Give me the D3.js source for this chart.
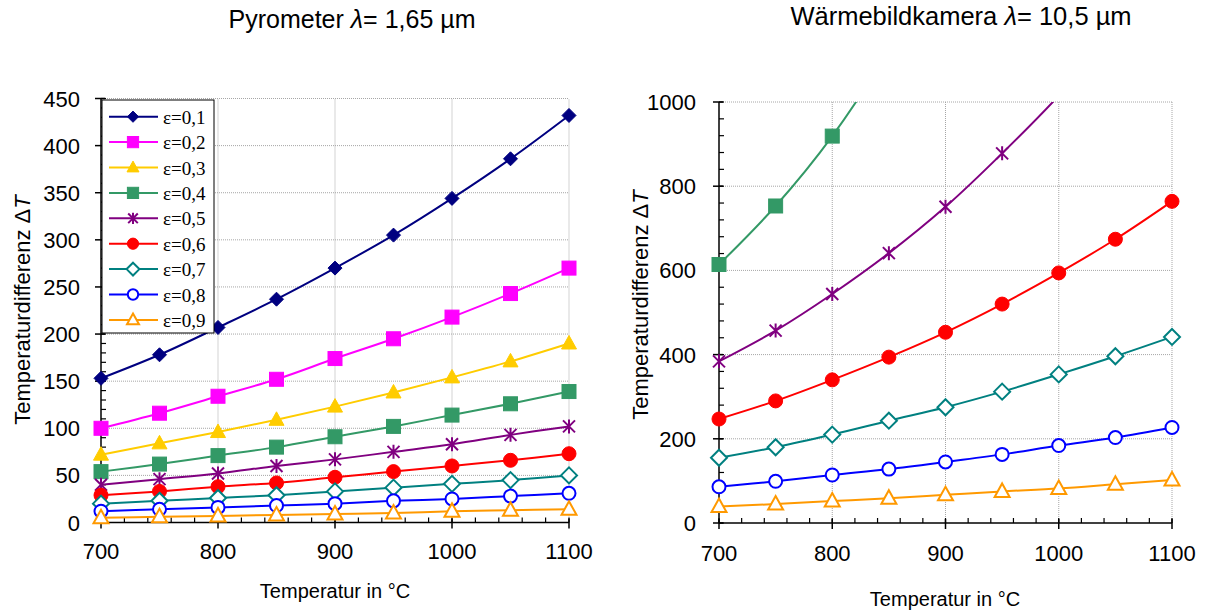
<!DOCTYPE html>
<html><head><meta charset="utf-8">
<script src="https://cdn.jsdelivr.net/npm/d3@7"></script>
<style>
body{margin:0;background:#fff;}
svg{display:block;}
</style></head>
<body>
<svg id="chart" width="1212" height="611"></svg>
<script>
// ---------- DATA ----------
const temps = [700, 750, 800, 850, 900, 950, 1000, 1050, 1100];
const epsLabels = ["ε=0,1","ε=0,2","ε=0,3","ε=0,4","ε=0,5","ε=0,6","ε=0,7","ε=0,8","ε=0,9"];
const seriesColors = ["#000080","#FF00FF","#FFCC00","#339966","#800080","#FF0000","#008080","#0000FF","#FF9900"];
const seriesMarkers = ["diamond","square","triangle","square","asterisk","circle","diamondOpen","circleOpen","triangleOpen"];

// Pyrometer λ = 1,65 µm
const pyro_e01 = [153, 178, 207, 237, 270, 305, 344, 386, 432];
const pyro_e02 = [100, 116, 134, 152, 174, 195, 218, 243, 270];
const pyro_e03 = [72, 84, 96, 109, 123, 138, 154, 171, 190];
const pyro_e04 = [54, 62, 71, 80, 91, 102, 114, 126, 139];
const pyro_e05 = [40, 46, 52, 60, 67, 75, 83, 93, 102];
const pyro_e06 = [29, 33, 38, 42, 48, 54, 60, 66, 73];
const pyro_e07 = [20, 23, 26, 29, 33, 37, 41, 45, 50];
const pyro_e08 = [12, 14, 16, 18, 20, 23, 25, 28, 31];
const pyro_e09 = [5, 6, 7, 8, 9, 10, 12, 13, 14];

// Wärmebildkamera λ = 10,5 µm (values above 1000 lie outside the plot)
const cam_e04 = [614, 753, 919, 1125, 1380, null, null, null, null];
const cam_e05 = [384, 457, 544, 641, 751, 878, 1015, 1170, null];
const cam_e06 = [247, 290, 340, 394, 453, 520, 594, 674, 764];
const cam_e07 = [155, 180, 210, 243, 275, 312, 353, 396, 442];
const cam_e08 = [86, 99, 114, 128, 145, 163, 184, 203, 227];
const cam_e09 = [39, 45, 52, 59, 67, 75, 82, 92, 102];

const leftTicks = [0, 50, 100, 150, 200, 250, 300, 350, 400, 450];
const rightTicks = [0, 200, 400, 600, 800, 1000];
const xTicks = [700, 800, 900, 1000, 1100];

const xLabel = "Temperatur in °C";
const yLabel = "Temperaturdifferenz";

// ---------- DRAW ----------
const svg = d3.select("#chart");
const defs = svg.append("defs");

function marker(g, type, color, x, y, k) {
  k = k || 1;
  const a = v => v * k;
  switch (type) {
    case "diamond":
      g.append("path").attr("d", `M${x},${y-a(7)}L${x+a(7)},${y}L${x},${y+a(7)}L${x-a(7)},${y}Z`).attr("fill", color).attr("stroke", color);
      break;
    case "square":
      g.append("rect").attr("x", x-a(7)).attr("y", y-a(7)).attr("width", a(14)).attr("height", a(14)).attr("fill", color).attr("stroke", color);
      break;
    case "triangle":
      g.append("path").attr("d", `M${x},${y-a(8)}L${x+a(7.5)},${y+a(5.5)}L${x-a(7.5)},${y+a(5.5)}Z`).attr("fill", color).attr("stroke", color);
      break;
    case "asterisk":
      g.append("path").attr("d", `M${x-a(6)},${y-a(6)}L${x+a(6)},${y+a(6)}M${x-a(6)},${y+a(6)}L${x+a(6)},${y-a(6)}M${x},${y-a(7)}L${x},${y+a(7)}`)
        .attr("fill", "none").attr("stroke", color).attr("stroke-width", 2);
      break;
    case "circle":
      g.append("circle").attr("cx", x).attr("cy", y).attr("r", a(7)).attr("fill", color).attr("stroke", color);
      break;
    case "diamondOpen":
      g.append("path").attr("d", `M${x},${y-a(8)}L${x+a(8)},${y}L${x},${y+a(8)}L${x-a(8)},${y}Z`).attr("fill", "#fff").attr("stroke", color).attr("stroke-width", 2);
      break;
    case "circleOpen":
      g.append("circle").attr("cx", x).attr("cy", y).attr("r", a(6.5)).attr("fill", "#fff").attr("stroke", color).attr("stroke-width", 2);
      break;
    case "triangleOpen":
      g.append("path").attr("d", `M${x},${y-a(8)}L${x+a(7.5)},${y+a(5.5)}L${x-a(7.5)},${y+a(5.5)}Z`).attr("fill", "#fff").attr("stroke", color).attr("stroke-width", 2);
      break;
  }
}

function drawChart(opt) {
  const x = d3.scaleLinear().domain([700, 1100]).range([opt.x0, opt.x1]);
  const y = d3.scaleLinear().domain([0, opt.yMax]).range([opt.y0, opt.y1]);
  const g = svg.append("g");
  const clipId = "clip" + opt.id;
  defs.append("clipPath").attr("id", clipId).append("rect")
    .attr("x", opt.x0 - 12).attr("y", opt.y1).attr("width", opt.x1 - opt.x0 + 24).attr("height", opt.y0 - opt.y1 + 12);

  // gridlines
  const grid = g.append("g").attr("stroke", "#a6a6a6").attr("stroke-width", 1).attr("stroke-dasharray", "1,1");
  opt.yTicks.filter(d => d > 0).forEach(t => {
    grid.append("line").attr("x1", opt.x0).attr("x2", opt.x1).attr("y1", y(t)).attr("y2", y(t));
  });
  xTicks.filter(d => d > 700).forEach(t => {
    grid.append("line").attr("x1", x(t)).attr("x2", x(t)).attr("y1", opt.y0).attr("y2", opt.y1);
  });

  // axes
  const ax = g.append("g").attr("stroke", "#000").attr("stroke-width", 1.5);
  ax.append("line").attr("x1", opt.x0).attr("x2", opt.x1).attr("y1", opt.y0).attr("y2", opt.y0);
  ax.append("line").attr("x1", opt.x0).attr("x2", opt.x0).attr("y1", opt.y0).attr("y2", opt.y1);
  d3.range(700, 1100.1, 20).forEach(t => {
    ax.append("line").attr("x1", x(t)).attr("x2", x(t)).attr("y1", opt.y0).attr("y2", opt.y0 - 5).attr("stroke-width", 1.2);
  });
  d3.range(0, opt.yMax + 0.1, opt.yMinor).forEach(t => {
    ax.append("line").attr("x1", opt.x0).attr("x2", opt.x0 + 5).attr("y1", y(t)).attr("y2", y(t)).attr("stroke-width", 1.2);
  });
  xTicks.forEach(t => {
    ax.append("line").attr("x1", x(t)).attr("x2", x(t)).attr("y1", opt.y0 - 4).attr("y2", opt.y0 + 6);
  });
  opt.yTicks.forEach(t => {
    ax.append("line").attr("x1", opt.x0 - 6).attr("x2", opt.x0 + 4).attr("y1", y(t)).attr("y2", y(t));
  });

  // tick labels
  const tl = g.append("g").attr("font-family", "Liberation Sans, Arial, sans-serif").attr("font-size", 22).attr("fill", "#000");
  xTicks.forEach(t => {
    tl.append("text").attr("x", x(t)).attr("y", opt.y0 + opt.xLabOff).attr("text-anchor", "middle").text(t);
  });
  opt.yTicks.forEach(t => {
    tl.append("text").attr("x", opt.x0 - opt.yLabOff).attr("y", y(t) + 8).attr("text-anchor", "end").text(t);
  });

  // series
  const line = d3.line().defined(d => d[1] != null).x(d => x(d[0])).y(d => y(d[1])).curve(d3.curveCatmullRom);
  const sg = g.append("g").attr("clip-path", `url(#${clipId})`);
  opt.series.forEach(s => {
    const pts = temps.map((t, i) => [t, s.values[i]]);
    sg.append("path").attr("d", line(pts)).attr("fill", "none").attr("stroke", seriesColors[s.idx]).attr("stroke-width", 2);
  });
  opt.series.forEach(s => {
    temps.forEach((t, i) => {
      const v = s.values[i];
      if (v == null || v > opt.yMax) return;
      marker(sg, seriesMarkers[s.idx], seriesColors[s.idx], x(t), y(v));
    });
  });

  // title
  const tt = g.append("text").attr("x", opt.titleX).attr("y", opt.titleY).attr("text-anchor", "middle")
    .attr("font-family", "Liberation Sans Narrow, Liberation Sans, sans-serif").attr("font-size", opt.titleSize);
  tt.append("tspan").text(opt.title);
  tt.append("tspan").attr("font-style", "italic").text("λ");
  tt.append("tspan").text(opt.titleRest);

  // axis labels
  g.append("text").attr("x", opt.xLabX).attr("y", opt.xLabY).attr("text-anchor", "middle")
    .attr("font-family", "Liberation Sans, Arial, sans-serif").attr("font-size", 20).text(xLabel);
  const yl = g.append("text").attr("transform", `translate(${opt.yLabX},${opt.yLabY}) rotate(-90)`).attr("text-anchor", "middle")
    .attr("font-family", "Liberation Sans, Arial, sans-serif").attr("font-size", 22);
  yl.append("tspan").text(yLabel + "  Δ");
  yl.append("tspan").attr("font-style", "italic").text("T");
  return {x, y, g};
}

drawChart({
  id: "L", x0: 101, x1: 569, y0: 522.5, y1: 98.5, yMax: 450, yMinor: 10, yTicks: leftTicks,
  xLabOff: 36, yLabOff: 21,
  series: [pyro_e01, pyro_e02, pyro_e03, pyro_e04, pyro_e05, pyro_e06, pyro_e07, pyro_e08, pyro_e09].map((v, i) => ({values: v, idx: i})),
  title: "Pyrometer ", titleRest: "= 1,65 µm", titleX: 352, titleY: 28, titleSize: 25,
  xLabX: 335, xLabY: 598, yLabX: 30, yLabY: 310
});

drawChart({
  id: "R", x0: 719, x1: 1172, y0: 523, y1: 102, yMax: 1000, yMinor: 40, yTicks: rightTicks,
  xLabOff: 38, yLabOff: 23,
  series: [cam_e04, cam_e05, cam_e06, cam_e07, cam_e08, cam_e09].map((v, i) => ({values: v, idx: i + 3})),
  title: "Wärmebildkamera  ", titleRest: "= 10,5 µm", titleX: 961, titleY: 25, titleSize: 25.5,
  xLabX: 945, xLabY: 606, yLabX: 648, yLabY: 305
});

// legend (left chart)
const lg = svg.append("g");
lg.append("rect").attr("x", 102).attr("y", 100).attr("width", 112).attr("height", 233)
  .attr("fill", "#fff").attr("stroke", "#000").attr("stroke-width", 1);
epsLabels.forEach((lab, i) => {
  const yy = 116.7 + i * 25.4;
  lg.append("line").attr("x1", 109).attr("x2", 158).attr("y1", yy).attr("y2", yy).attr("stroke", seriesColors[i]).attr("stroke-width", 2);
  marker(lg, seriesMarkers[i], seriesColors[i], 133, yy, 0.8);
  lg.append("text").attr("x", 163).attr("y", yy + 7).attr("font-family", "Liberation Serif, Times New Roman, serif")
    .attr("font-size", 19).text(lab);
});
</script>
</body></html>
